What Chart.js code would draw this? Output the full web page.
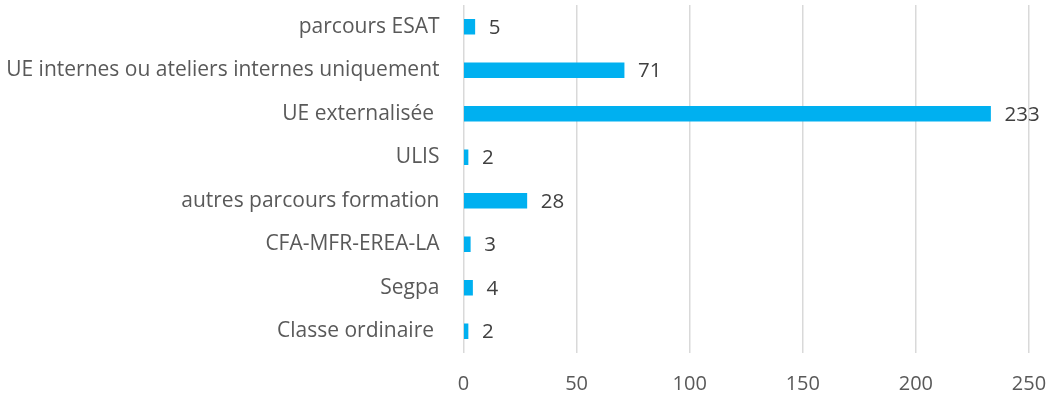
<!DOCTYPE html>
<html>
<head>
<meta charset="utf-8">
<script src="https://cdn.jsdelivr.net/npm/chart.js@4"></script>
<style>
  html, body { margin: 0; padding: 0; background: #fff; }
  #wrap { width: 1046px; height: 394px; }
</style>
</head>
<body>
<div id="wrap"><canvas id="parcoursChart" width="1046" height="394"></canvas></div>
<script>
// Parcours des élèves
const categories = [
    'parcours ESAT',
    'UE internes ou ateliers internes uniquement',
    'UE externalisée ',
    'ULIS',
    'autres parcours formation',
    'CFA-MFR-EREA-LA',
    'Segpa',
    'Classe ordinaire '
];
const effectifs = [5, 71, 233, 2, 28, 3, 4, 2];
const xTicks = [0, 50, 100, 150, 200, 250];

// Valeurs écrites au bout des barres
const barValues = {
    id: 'barValues',
    afterDatasetsDraw(chart) {
        const ctx = chart.ctx;
        const meta = chart.getDatasetMeta(0);
        ctx.save();
        ctx.font = '20.5px "Open Sans"';
        ctx.fillStyle = '#404040';
        ctx.textAlign = 'left';
        ctx.textBaseline = 'middle';
        meta.data.forEach((bar, i) => {
            ctx.fillText(String(effectifs[i]), bar.x + 14, bar.y + 1);
        });
        ctx.restore();
    }
};

const ctx = document.getElementById('parcoursChart').getContext('2d');
new Chart(ctx, {
    type: 'bar',
    data: {
        labels: categories,
        datasets: [{
            data: effectifs,
            backgroundColor: '#00B0F0',
            barThickness: 15
        }]
    },
    options: {
        indexAxis: 'y',
        responsive: false,
        animation: false,
        layout: { padding: { top: 5, right: 17, left: 0, bottom: 0 } },
        plugins: {
            legend: { display: false },
            tooltip: { enabled: false }
        },
        scales: {
            x: {
                min: 0,
                max: 250,
                afterBuildTicks: scale => { scale.ticks = xTicks.map(v => ({ value: v })); },
                afterFit: scale => {
                    scale.height = 41;
                    scale.paddingLeft = 0;
                    scale.paddingRight = 0;
                },
                grid: { color: '#d9d9d9', lineWidth: 1.5, drawTicks: false },
                border: { display: false },
                ticks: {
                    padding: 19,
                    color: '#595959',
                    font: { family: 'Open Sans', size: 20 }
                }
            },
            y: {
                afterFit: scale => {
                    scale.width = 463.5;
                    scale.paddingTop = 0;
                    scale.paddingBottom = 0;
                },
                grid: { display: false },
                border: { display: false },
                ticks: {
                    padding: 16,
                    color: '#595959',
                    font: { family: 'Open Sans', size: 21 }
                }
            }
        }
    },
    plugins: [barValues]
});
</script>
</body>
</html>
